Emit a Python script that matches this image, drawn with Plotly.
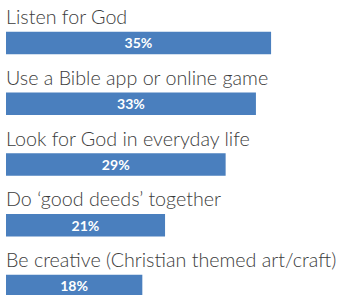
import plotly.graph_objects as go

categories = [
    "Listen for God",
    "Use a Bible app or online game",
    "Look for God in everyday life",
    "Do ‘good deeds’ together",
    "Be creative (Christian themed art/craft)",
]
values = [35, 33, 29, 21, 18]
value_labels = ["35%", "33%", "29%", "21%", "18%"]

ypos = list(range(len(categories)))
bar_color = "#4A7FBE"

fig = go.Figure(
    go.Bar(
        x=values,
        y=ypos,
        orientation="h",
        width=0.37,
        marker=dict(color=bar_color, line=dict(width=0)),
        text=value_labels,
        textposition="inside",
        insidetextanchor="middle",
        textangle=0,
        textfont=dict(family="Lato", size=14.5, color="white", weight="bold"),
        hoverinfo="skip",
    )
)

for yv, cat in zip(ypos, categories):
    fig.add_annotation(
        x=0, y=yv, xref="x", yref="y",
        text=cat, showarrow=False,
        xanchor="left", yanchor="bottom",
        yshift=13, xshift=-2,
        font=dict(family="Lato", size=19.7, color="#3c3c3c", weight=300),
    )

fig.update_layout(
    width=340, height=295,
    margin=dict(l=6, r=0, t=0, b=0),
    paper_bgcolor="white", plot_bgcolor="white",
    showlegend=False,
    xaxis=dict(range=[0, 44.1], visible=False, fixedrange=True),
    yaxis=dict(range=[4.148, -0.708], visible=False, fixedrange=True),
    uniformtext=dict(minsize=8, mode="show"),
)

fig.write_html(
    "out.html",
    config={"displayModeBar": False, "staticPlot": True},
    post_script="document.body.style.margin='0px';document.body.style.overflow='hidden';",
)
